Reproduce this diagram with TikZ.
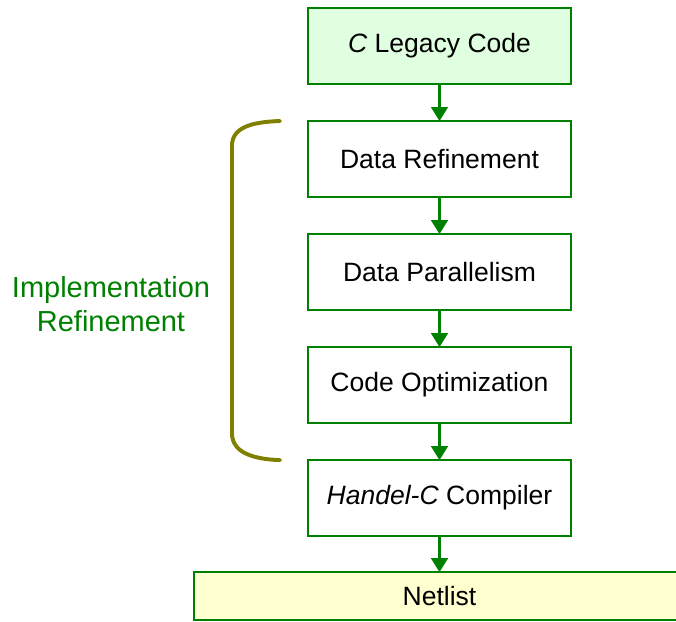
\documentclass[tikz,border=0pt]{standalone}
\usepackage{fontspec}
\setmainfont{Liberation Sans}
\usetikzlibrary{positioning,arrows.meta,calc}

\definecolor{flowgreen}{RGB}{0,128,0}
\definecolor{legacyfill}{RGB}{224,255,224}
\definecolor{netfill}{RGB}{255,255,208}
\definecolor{bracecol}{RGB}{128,128,0}

\tikzset{stage/.style={draw=flowgreen,line width=1.4pt,fill=white,minimum width=6.575cm,minimum height=1.9cm,inner sep=0pt,outer sep=0pt,font=\fontsize{18.85}{22}\selectfont}}
\tikzset{flow/.style={draw=flowgreen,line width=1.6pt,-{Triangle[length=0.35cm,width=0.42cm]}}}

\begin{document}
\begin{tikzpicture}[x=0.025cm,y=-0.025cm]
	\useasboundingbox (0,0) rectangle (676,622);

	\node[stage,fill=legacyfill] (legacy) at (439.5,46) {\textit{C} Legacy Code};
	\node[stage,below=0.925cm of legacy] (dref) {Data Refinement};
	\node[stage,below=0.925cm of dref] (dpar) {Data Parallelism};
	\node[stage,below=0.925cm of dpar] (copt) {Code Optimization};
	\node[stage,below=0.925cm of copt] (hc) {\textit{Handel-C} Compiler};
	\node[stage,fill=netfill,minimum width=12.25cm,minimum height=1.2cm,below=0.9cm of hc] (net) {Netlist};

	\draw[flow] (legacy) -- (dref);
	\draw[flow] (dref) -- (dpar);
	\draw[flow] (dpar) -- (copt);
	\draw[flow] (copt) -- (hc);
	\draw[flow] (hc) -- (net);

	% bracket round the refinement steps
	\coordinate (brtop) at ($(dref.north west)+(-28,0)$);
	\coordinate (brbot) at ($(hc.north west)+(-28,0)$);
	\coordinate (brtopin) at ($(brtop)+(-48,25)$);
	\coordinate (brbotin) at ($(brbot)+(-48,-27)$);
	\draw[bracecol,line width=2.8pt,line cap=round] (brtop) .. controls +(-30,1) and +(0,-18) .. (brtopin)
		-- (brbotin) .. controls +(0,18) and +(-30,-1) .. (brbot);

	\node[text=flowgreen,align=center,font=\fontsize{20.6}{24.5}\selectfont] (impl) at (111,304) {Implementation\\Refinement};
\end{tikzpicture}
\end{document}
